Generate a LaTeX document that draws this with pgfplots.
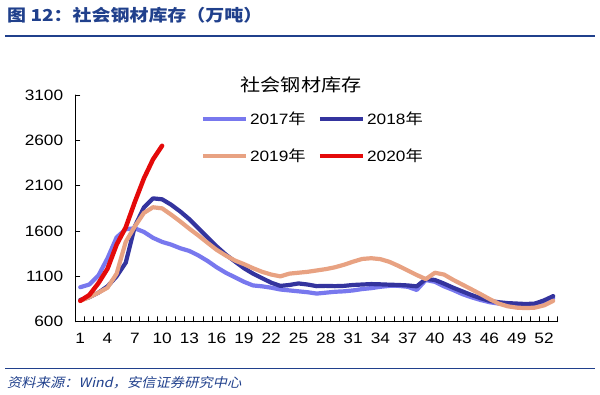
\documentclass[border=0pt]{standalone}
\usepackage{pgfplots}
\pgfplotsset{compat=1.18}
\usepackage{fontspec}
\setmainfont[FakeStretch=1.15]{Liberation Sans}
\newfontfamily\cjk[FakeStretch=1.15]{Noto Sans CJK SC}
\newfontfamily\cjkit[FakeStretch=1.1,FakeSlant=0.22]{Noto Sans CJK SC}
\definecolor{c17}{RGB}{120,120,238}
\definecolor{c18}{RGB}{52,52,158}
\definecolor{c19}{RGB}{232,162,130}
\definecolor{c20}{RGB}{228,10,10}
\definecolor{hdr}{RGB}{32,64,140}
\begin{document}
\begin{tikzpicture}
\path[use as bounding box] (0,0) rectangle (600bp,395bp);
% header
\node[anchor=west,text=hdr,font=\cjk\bfseries\fontsize{16.5bp}{19bp}\selectfont,inner sep=0] at (7bp,380bp) {图 12：社会钢材库存（万吨）};
\draw[hdr,line width=1.2bp] (5bp,359bp) -- (595bp,359bp);
% footer
\draw[hdr,line width=1bp] (5bp,26bp) -- (595bp,26bp);
\node[anchor=west,text=hdr,font=\cjkit\fontsize{13bp}{15bp}\selectfont,inner sep=0] at (7bp,12bp) {资料来源：Wind，安信证券研究中心};
% chart title
\node[font=\cjk\fontsize{17.5bp}{20bp}\selectfont] at (301bp,310bp) {社会钢材库存};
\begin{axis}[
  at={(75.7bp,73.3bp)}, anchor=south west,
  scale only axis, width=482bp, height=226.7bp,
  xmin=0.5, xmax=53.5, ymin=600, ymax=3100,
  axis x line*=bottom, axis y line*=left,
  axis line style={-, line width=1bp, black},
  tick align=inside,
  xtick={1,4,...,52},
  minor xtick={0.5,1.5,...,53.5},
  ytick={600,1100,...,3100},
  major tick length=4bp, minor tick length=5bp,
  major x tick style={draw=none},
  every tick/.style={black, line width=0.9bp},
  /pgf/number format/assume math mode=true,
  /pgf/number format/set thousands separator={},
  ticklabel style={font=\fontsize{15bp}{18bp}\selectfont},
  yticklabel style={xshift=-9bp},
  xticklabel style={yshift=-8bp},
  line join=round, line cap=round,
  legend columns=2,
  legend style={at={(0.253,0.945)}, anchor=north west, draw=none, fill=none,
    font=\fontsize{15bp}{18bp}\selectfont, row sep=19bp,
    /tikz/every even column/.append style={column sep=10bp}},
  legend cell align=left,
  legend image code/.code={\draw[#1] (0bp,0bp) -- (43bp,0bp);},
]
\addplot[c17, line width=4.2bp] coordinates {
(1,980)(2,1010)(3,1110)(4,1300)(5,1530)(6,1620)(7,1630)(8,1590)(9,1525)(10,1480)
(11,1450)(12,1410)(13,1380)(14,1330)(15,1270)(16,1200)(17,1140)(18,1090)(19,1040)(20,1000)
(21,990)(22,975)(23,955)(24,945)(25,935)(26,925)(27,910)(28,920)(29,930)(30,935)
(31,945)(32,960)(33,970)(34,985)(35,995)(36,995)(37,985)(38,950)(39,1060)(40,1040)
(41,990)(42,950)(43,905)(44,870)(45,840)(46,815)(47,800)(48,790)(49,785)(50,785)
(51,795)(52,820)(53,860)};
\addlegendentry{2017{\cjk 年}}
\addplot[c18, line width=4.2bp] coordinates {
(1,840)(2,870)(3,920)(4,990)(5,1100)(6,1250)(7,1650)(8,1860)(9,1960)(10,1950)
(11,1890)(12,1815)(13,1730)(14,1630)(15,1530)(16,1430)(17,1340)(18,1265)(19,1190)(20,1130)
(21,1080)(22,1030)(23,995)(24,1005)(25,1022)(26,1010)(27,992)(28,995)(29,992)(30,995)
(31,1005)(32,1010)(33,1015)(34,1012)(35,1008)(36,1005)(37,1000)(38,990)(39,1072)(40,1060)
(41,1020)(42,975)(43,935)(44,895)(45,860)(46,830)(47,815)(48,805)(49,800)(50,795)
(51,800)(52,835)(53,882)};
\addlegendentry{2018{\cjk 年}}
\addplot[c19, line width=4.2bp] coordinates {
(1,830)(2,870)(3,920)(4,975)(5,1130)(6,1480)(7,1650)(8,1800)(9,1862)(10,1850)
(11,1780)(12,1705)(13,1625)(14,1550)(15,1470)(16,1392)(17,1330)(18,1275)(19,1235)(20,1190)
(21,1150)(22,1120)(23,1100)(24,1130)(25,1140)(26,1150)(27,1165)(28,1180)(29,1200)(30,1228)
(31,1262)(32,1292)(33,1300)(34,1290)(35,1260)(36,1215)(37,1165)(38,1115)(39,1070)(40,1140)
(41,1120)(42,1062)(43,1010)(44,958)(45,905)(46,850)(47,800)(48,770)(49,755)(50,750)
(51,755)(52,780)(53,830)};
\addlegendentry{2019{\cjk 年}}
\addplot[c20, line width=4.5bp] coordinates {
(1,830)(2,895)(3,1025)(4,1185)(5,1450)(6,1640)(7,1920)(8,2180)(9,2390)(10,2540)};
\addlegendentry{2020{\cjk 年}}
\end{axis}
\end{tikzpicture}
\end{document}
